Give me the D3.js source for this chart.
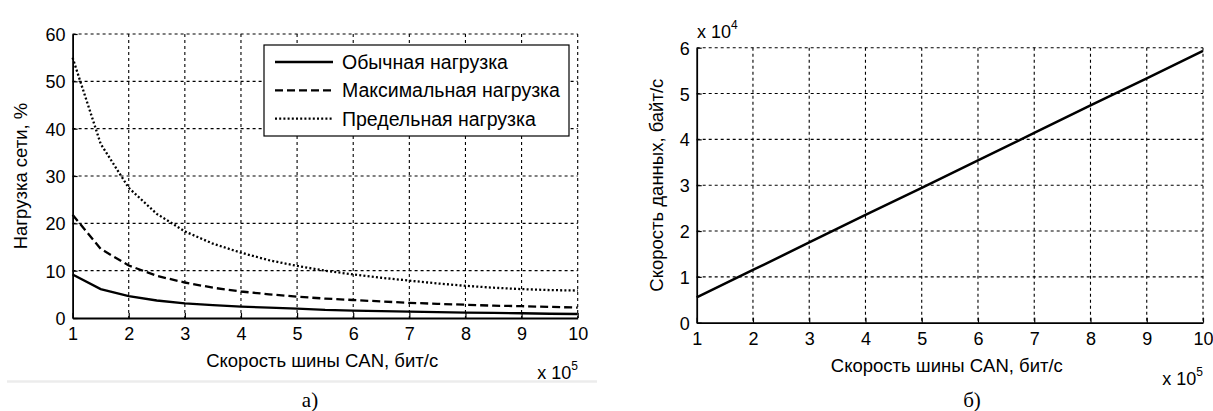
<!DOCTYPE html>
<html>
<head>
<meta charset="utf-8">
<script src="https://cdn.jsdelivr.net/npm/d3@7"></script>
<style>
  body { margin: 0; background: #fff; }
  text { font-family: "Liberation Sans", Arial, sans-serif; fill: #000; }
</style>
</head>
<body>
<div id="canvas"></div>
<script>
// скорость шины, x 10^5 бит/с
const busSpeedA = [1, 1.5, 2, 2.5, 3, 3.5, 4, 4.5, 5, 5.5, 6, 6.5, 7, 7.5, 8, 8.5, 9, 9.5, 10];
// нагрузка сети, %
const normalLoad = [9.2, 6.1, 4.6, 3.7, 3.1, 2.7, 2.4, 2.2, 2.0, 1.7, 1.55, 1.45, 1.35, 1.25, 1.15, 1.1, 1.0, 0.9, 0.85];
const maxLoad = [21.8, 14.6, 11.1, 8.9, 7.5, 6.4, 5.6, 5.0, 4.5, 4.1, 3.8, 3.5, 3.2, 3.0, 2.8, 2.6, 2.5, 2.35, 2.2];
const limitLoad = [55, 36.8, 27.5, 22.0, 18.3, 15.7, 13.8, 12.2, 11.0, 10.0, 9.2, 8.5, 7.9, 7.3, 6.8, 6.4, 6.1, 5.9, 5.8];
const seriesNames = ["Обычная нагрузка", "Максимальная нагрузка", "Предельная нагрузка"];

// скорость данных, байт/с
const busSpeedB = [1, 2, 3, 4, 5, 6, 7, 8, 9, 10];
const dataRate = [5500, 11500, 17500, 23500, 29400, 35400, 41400, 47400, 53300, 59300];

const xTicks = [1, 2, 3, 4, 5, 6, 7, 8, 9, 10];
const yTicksA = [0, 10, 20, 30, 40, 50, 60];
const yTicksB = [0, 10000, 20000, 30000, 40000, 50000, 60000];

const W = 1213, H = 411;
const svg = d3.select("#canvas").append("svg")
    .attr("width", W).attr("height", H);

const dashes = ["none", "8,4", "2,2.2"];

function drawPanel(cfg) {
    const x = d3.scaleLinear().domain([1, 10]).range([cfg.left, cfg.right]);
    const y = d3.scaleLinear().domain(cfg.yDomain).range([cfg.bottom, cfg.top]);
    const g = svg.append("g");

    // сетка
    g.append("g").selectAll("line").data(xTicks.slice(1)).enter().append("line")
        .attr("x1", d => x(d)).attr("x2", d => x(d))
        .attr("y1", cfg.top).attr("y2", cfg.bottom)
        .attr("stroke", "#000").attr("stroke-width", 1.1).attr("stroke-dasharray", "3,3");
    g.append("g").selectAll("line").data(cfg.yTicks.slice(1)).enter().append("line")
        .attr("x1", cfg.left).attr("x2", cfg.right)
        .attr("y1", d => y(d)).attr("y2", d => y(d))
        .attr("stroke", "#000").attr("stroke-width", 1.1).attr("stroke-dasharray", "3,3");

    // оси
    const ax = g.append("g").attr("transform", "translate(0," + cfg.bottom + ")")
        .call(d3.axisBottom(x).tickValues(xTicks).tickSizeInner(-5).tickSizeOuter(0).tickPadding(9)
            .tickFormat(d3.format("d")));
    const ay = g.append("g").attr("transform", "translate(" + cfg.left + ",0)")
        .call(d3.axisLeft(y).tickValues(cfg.yTicks).tickSizeInner(-5).tickSizeOuter(0).tickPadding(7)
            .tickFormat(cfg.yFormat));
    [ax, ay].forEach(a => {
        a.select(".domain").attr("stroke-width", 1.8);
        a.selectAll(".tick line").attr("stroke-width", 1.2);
        a.selectAll("text").style("font-size", "18px").attr("fill", "#000")
            .style("font-family", "Liberation Sans, Arial, sans-serif");
    });
    ay.selectAll("text").attr("dy", "0.36em");
    ax.selectAll("text").attr("dy", "0.72em");

    // подписи осей
    g.append("text").attr("x", (cfg.left + cfg.right) / 2 - 3).attr("y", cfg.bottom + 49)
        .attr("text-anchor", "middle").style("font-size", "18.5px").text("Скорость шины CAN, бит/с");
    g.append("text")
        .attr("transform", "translate(" + cfg.yLabelX + "," + (cfg.top + cfg.bottom) / 2 + ") rotate(-90)")
        .attr("text-anchor", "middle").style("font-size", "18.5px").text(cfg.yLabel);

    return { g, x, y };
}

// ---- панель а)
const pa = drawPanel({
    left: 72.6, right: 577.7, top: 34, bottom: 318,
    yDomain: [0, 60], yTicks: yTicksA, yFormat: d3.format("d"),
    yLabel: "Нагрузка сети, %", yLabelX: 27
});
const lineA = d3.line().x((d, i) => pa.x(busSpeedA[i])).y(d => pa.y(d));
[normalLoad, maxLoad, limitLoad].forEach((s, k) => {
    pa.g.append("path").attr("d", lineA(s))
        .attr("fill", "none").attr("stroke", "#000").attr("stroke-width", 2.3)
        .attr("stroke-dasharray", dashes[k]);
});

// легенда
const leg = pa.g.append("g");
leg.append("rect").attr("x", 264).attr("y", 45).attr("width", 305).attr("height", 91)
    .attr("fill", "#fff").attr("stroke", "#000").attr("stroke-width", 1.2);
seriesNames.forEach((name, k) => {
    const yy = 62 + k * 28.3;
    leg.append("line").attr("x1", 275).attr("x2", 333).attr("y1", yy).attr("y2", yy)
        .attr("stroke", "#000").attr("stroke-width", 2.3).attr("stroke-dasharray", dashes[k]);
    leg.append("text").attr("x", 342).attr("y", yy).attr("dy", "0.36em")
        .style("font-size", "19.5px").text(name);
});

// множитель x 10^n
function multiplier(g, x, yb, p, anchor) {
    const t = g.append("text").attr("x", x).attr("y", yb).attr("text-anchor", anchor)
        .style("font-size", "18px");
    t.append("tspan").text("x 10");
    t.append("tspan").attr("dy", "-9").style("font-size", "12px").text(p);
}
multiplier(pa.g, 578, 379, "5", "end");

// ---- панель б)
const pb = drawPanel({
    left: 696.7, right: 1203, top: 47.7, bottom: 322.7,
    yDomain: [0, 60000], yTicks: yTicksB, yFormat: d => d / 10000,
    yLabel: "Скорость данных, байт/с", yLabelX: 663
});
const lineB = d3.line().x((d, i) => pb.x(busSpeedB[i])).y(d => pb.y(d));
pb.g.append("path").attr("d", lineB(dataRate))
    .attr("fill", "none").attr("stroke", "#000").attr("stroke-width", 2.5);
multiplier(pb.g, 697, 38, "4", "start");
multiplier(pb.g, 1203, 385, "5", "end");

// разделитель и подписи а) б)
svg.append("line").attr("x1", 7).attr("x2", 597).attr("y1", 381.5).attr("y2", 381.5)
    .attr("stroke", "#ececec").attr("stroke-width", 2.5);
svg.append("text").attr("x", 310).attr("y", 407).attr("text-anchor", "middle")
    .style("font-family", "Liberation Serif, Times New Roman, serif").style("font-size", "21px").text("а)");
svg.append("text").attr("x", 972).attr("y", 407).attr("text-anchor", "middle")
    .style("font-family", "Liberation Serif, Times New Roman, serif").style("font-size", "21px").text("б)");
</script>
</body>
</html>
